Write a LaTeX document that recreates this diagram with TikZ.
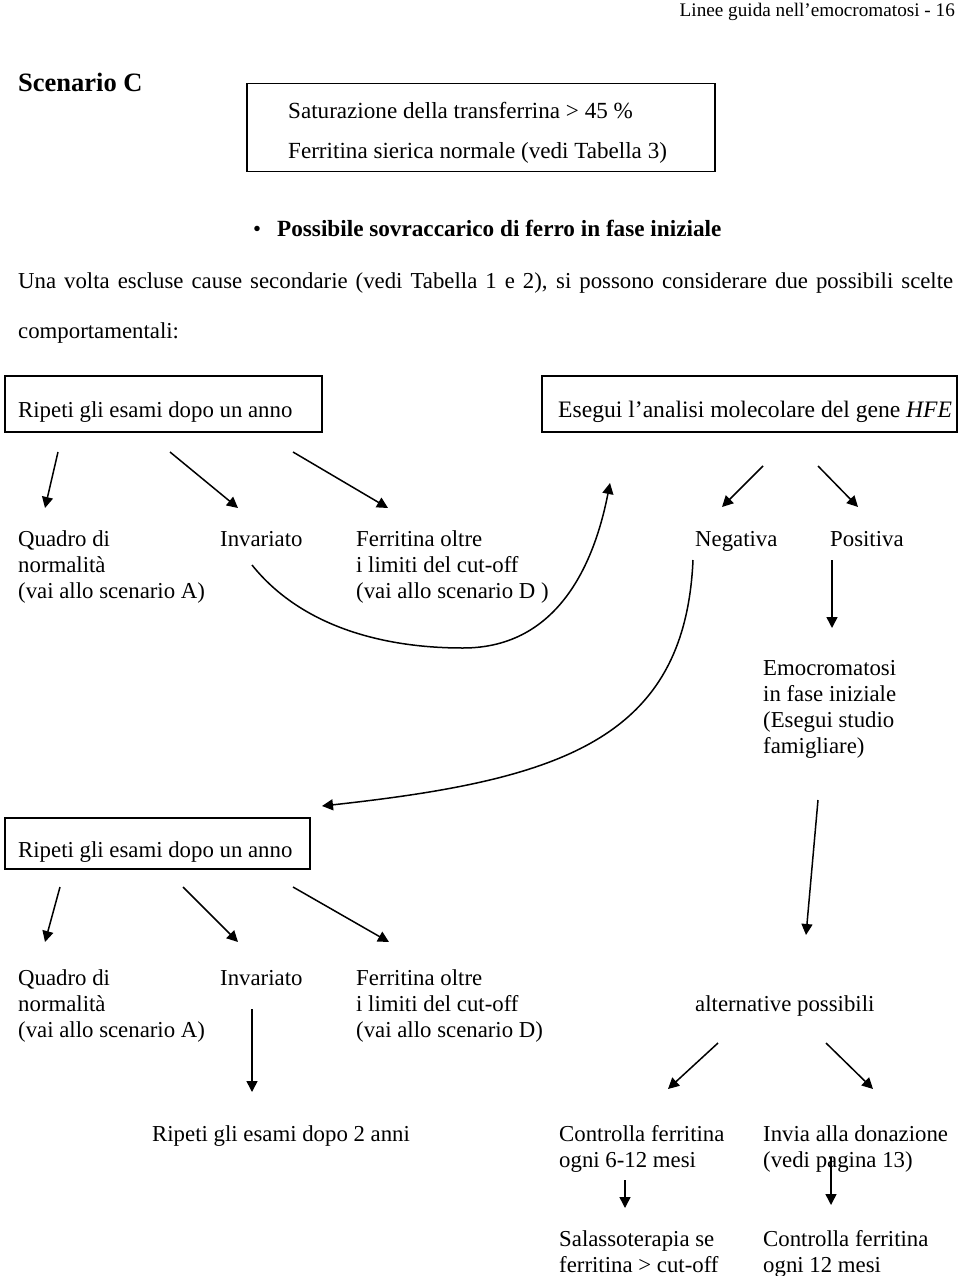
\documentclass[tikz,border=0pt]{standalone}
\usepackage{fontspec}
\setmainfont{Liberation Serif}
\usetikzlibrary{arrows.meta}
\begin{document}
\begin{tikzpicture}[x=1pt,y=-1pt,
  lbl/.style={anchor=west, inner sep=0pt, align=left, yshift=-3pt, font=\fontsize{22.8}{26}\selectfont},
  one/.style={lbl, text height=15.7pt, text depth=5pt},
  frame/.style={draw, line width=1.5pt, anchor=north west, inner sep=0pt},
  arr/.style={-{Triangle[length=11pt,width=11pt]}, line width=1.5pt}]
\useasboundingbox (0,0) rectangle (960,1276);

% header and title
\node[anchor=east, inner sep=0pt, font=\fontsize{19.2}{22}\selectfont] (hdr) at (955,12) {Linee guida nell’emocromatosi - 16};
\node[anchor=west, inner sep=0pt, font=\fontsize{26.5}{30}\selectfont\bfseries] (scen) at (18,82) {Scenario C};

% box 1
\node[frame, minimum width=468pt, minimum height=88pt] (box1) at (246,83) {};
\node[one, font=\fontsize{23.1}{26}\selectfont] (sat) at (288,110) {Saturazione della transferrina > 45 \%};
\node[one, font=\fontsize{23.1}{26}\selectfont] (fer) at (288,150) {Ferritina sierica normale (vedi Tabella 3)};

% bullet
\node[one] (bul) at (253,228) {\textbullet\hspace{16pt}\fontsize{23.2}{26}\selectfont\textbf{Possibile sovraccarico di ferro in fase iniziale}};

% paragraph
\node[one] (par1) at (18,280) {\makebox[935pt][s]{Una volta escluse cause secondarie (vedi Tabella 1 e 2), si possono considerare due possibili scelte}};
\node[one] (par2) at (18,330) {comportamentali:};

% boxes 2 and 3
\node[frame, minimum width=317pt, minimum height=56pt] (box2) at (4,375) {};
\node[one] (rip1) at (18,409) {Ripeti gli esami dopo un anno};
\node[frame, minimum width=415pt, minimum height=56pt] (box3) at (541,375) {};
\node[one, font=\fontsize{23.6}{26}\selectfont] (eseg) at (558,409) {Esegui l’analisi molecolare del gene \textit{HFE}};

% first row of outcomes
\node[lbl] (q1) at (18,564) {Quadro di\\normalità\\(vai allo scenario A)};
\node[one] (inv1) at (220,538) {Invariato};
\node[lbl] (fer1) at (356,564) {Ferritina oltre\\i limiti del cut-off\\(vai allo scenario D )};
\node[one] (neg) at (695,538) {Negativa};
\node[one] (pos) at (830,538) {Positiva};
\node[lbl] (emo) at (763,706) {Emocromatosi\\in fase iniziale\\(Esegui studio\\famigliare)};

% box 4
\node[frame, minimum width=305pt, minimum height=51pt] (box4) at (4,817) {};
\node[one] (rip2) at (18,849) {Ripeti gli esami dopo un anno};

% second row of outcomes
\node[lbl] (q2) at (18,1003) {Quadro di\\normalità\\(vai allo scenario A)};
\node[one] (inv2) at (220,977) {Invariato};
\node[lbl] (fer2) at (356,1003) {Ferritina oltre\\i limiti del cut-off\\(vai allo scenario D)};
\node[one] (alt) at (695,1003) {alternative possibili};

% third row
\node[one] (rip3) at (152,1133) {Ripeti gli esami dopo 2 anni};
\node[lbl] (ctrl) at (559,1146) {Controlla ferritina\\ogni 6-12 mesi};
\node[lbl] (invia) at (763,1146) {Invia alla donazione\\(vedi pagina 13)};
\node[lbl] (sal) at (559,1249) {Salassoterapia se\\ferritina > cut-off};
\node[lbl] (ctrl12) at (763,1251) {Controlla ferritina\\ogni 12 mesi};

% arrow end points
\coordinate (a1s) at (58,452);  \coordinate (a1e) at (45,508);
\coordinate (a2s) at (170,452); \coordinate (a2e) at (238,508);
\coordinate (a3s) at (293,452); \coordinate (a3e) at (388,508);
\coordinate (c1s) at (252,565); \coordinate (c1m) at (463,648); \coordinate (c1e) at (610,483);
\coordinate (n1s) at (763,466); \coordinate (n1e) at (722,507);
\coordinate (p1s) at (818,466); \coordinate (p1e) at (858,507);
\coordinate (p2s) at (832,560); \coordinate (p2e) at (832,628);
\coordinate (c2s) at (693,560); \coordinate (c2e) at (322,806);
\coordinate (e1s) at (818,800); \coordinate (e1e) at (806,935);
\coordinate (b1s) at (60,887);  \coordinate (b1e) at (45,942);
\coordinate (b2s) at (183,887); \coordinate (b2e) at (238,942);
\coordinate (b3s) at (293,887); \coordinate (b3e) at (389,942);
\coordinate (b4s) at (252,1009); \coordinate (b4e) at (252,1092);
\coordinate (l1s) at (718,1043); \coordinate (l1e) at (668,1089);
\coordinate (r1s) at (826,1043); \coordinate (r1e) at (873,1089);
\coordinate (s1s) at (625,1180); \coordinate (s1e) at (625,1208);
\coordinate (s2s) at (831,1157); \coordinate (s2e) at (831,1205);

\draw[arr] (a1s) -- (a1e);
\draw[arr] (a2s) -- (a2e);
\draw[arr] (a3s) -- (a3e);
\draw[arr] (c1s) .. controls (300,625) and (380,648) .. (c1m) .. controls (560,648) and (595,560) .. (c1e);
\draw[arr] (n1s) -- (n1e);
\draw[arr] (p1s) -- (p1e);
\draw[arr] (p2s) -- (p2e);
\draw[arr] (c2s) .. controls (685,740) and (560,780) .. (c2e);
\draw[arr] (e1s) -- (e1e);
\draw[arr] (b1s) -- (b1e);
\draw[arr] (b2s) -- (b2e);
\draw[arr] (b3s) -- (b3e);
\draw[arr] (b4s) -- (b4e);
\draw[arr] (l1s) -- (l1e);
\draw[arr] (r1s) -- (r1e);
\draw[arr] (s1s) -- (s1e);
\draw[arr] (s2s) -- (s2e);
\end{tikzpicture}
\end{document}
